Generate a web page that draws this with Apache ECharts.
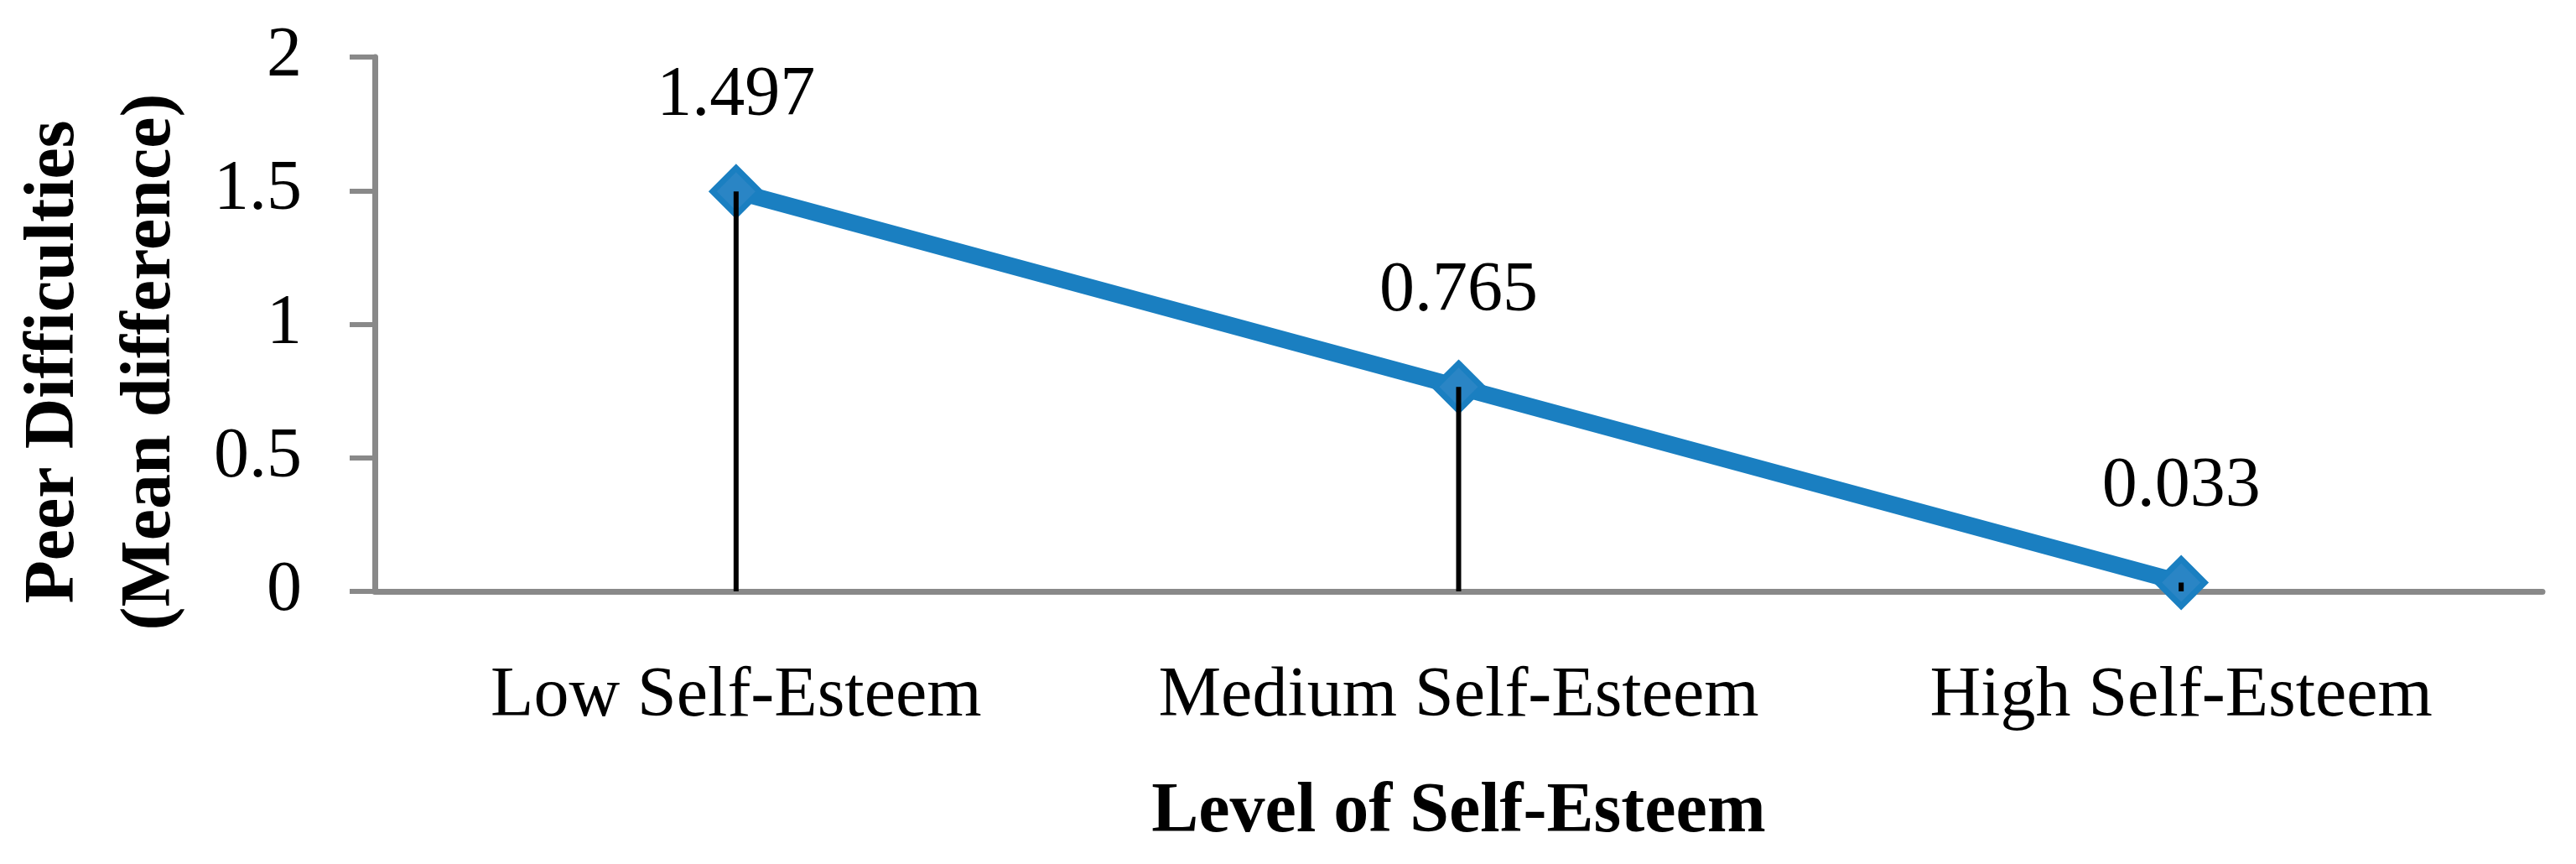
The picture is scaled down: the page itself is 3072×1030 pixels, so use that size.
<!DOCTYPE html>
<html>
<head>
<meta charset="utf-8">
<script src="https://cdn.jsdelivr.net/npm/echarts@6/dist/echarts.min.js"></script>
<style>
  html, body { margin: 0; padding: 0; background: #ffffff; }
  #chart { width: 3072px; height: 1030px; }
</style>
</head>
<body>
<div id="chart"></div>
<script>
const categories = ['Low Self-Esteem', 'Medium Self-Esteem', 'High Self-Esteem'];
const meanDifference = [1.497, 0.765, 0.033];
const yTicks = { min: 0, max: 2, interval: 0.5 };
const xAxisTitle = 'Level of Self-Esteem';
const yAxisTitle = 'Peer Difficulties\n(Mean difference)';

const FONT = '"Liberation Serif", "Times New Roman", serif';
const AXIS_GRAY = '#898989';
const BLUE = '#1A7FC1';
const BLUE_FILL = '#2A85C5';

const chart = echarts.init(document.getElementById('chart'), null, { renderer: 'canvas' });

const option = {
  backgroundColor: '#ffffff',
  animation: false,
  grid: { left: 447, right: 40, top: 68, bottom: 325, outerBoundsMode: 'none', containLabel: false },
  xAxis: {
    type: 'category',
    data: categories,
    boundaryGap: true,
    axisLine: { show: true, lineStyle: { color: AXIS_GRAY, width: 7 } },
    axisTick: { show: false },
    splitLine: { show: false },
    axisLabel: { color: '#000', fontFamily: FONT, fontSize: 84, margin: 84, interval: 0 },
    name: xAxisTitle,
    nameLocation: 'middle',
    nameGap: 222,
    nameTextStyle: { color: '#000', fontFamily: FONT, fontSize: 84, fontWeight: 'bold' }
  },
  yAxis: {
    type: 'value',
    min: yTicks.min,
    max: yTicks.max,
    interval: yTicks.interval,
    axisLine: { show: true, lineStyle: { color: AXIS_GRAY, width: 7 } },
    axisTick: { show: true, inside: false, length: 30, lineStyle: { color: AXIS_GRAY, width: 6 } },
    splitLine: { show: false },
    axisLabel: { color: '#000', fontFamily: FONT, fontSize: 84, margin: 87 },
    name: yAxisTitle,
    nameLocation: 'middle',
    nameRotate: 90,
    nameGap: 209,
    nameTextStyle: {
      color: '#000', fontFamily: FONT, fontSize: 84, fontWeight: 'bold',
      lineHeight: 115, align: 'center', padding: [0, 90, 0, 0]
    }
  },
  series: [
    {
      type: 'line',
      data: meanDifference,
      z: 3,
      symbol: 'diamond',
      symbolSize: 56,
      showAllSymbol: true,
      lineStyle: { color: BLUE, width: 20 },
      itemStyle: { color: BLUE_FILL, borderColor: BLUE, borderWidth: 7 },
      label: {
        show: true,
        position: 'top',
        distance: 40,
        color: '#000',
        fontFamily: FONT,
        fontSize: 84,
        formatter: p => String(p.value)
      }
    },
    {
      type: 'custom',
      z: 5,
      data: meanDifference.map((v, i) => [i, v]),
      renderItem: function (params, api) {
        const top = api.coord([api.value(0), api.value(1)]);
        const bottom = api.coord([api.value(0), 0]);
        return {
          type: 'line',
          shape: { x1: top[0], y1: top[1], x2: bottom[0], y2: bottom[1] },
          style: { stroke: '#000', lineWidth: 6 }
        };
      },
      silent: true
    }
  ]
};

chart.setOption(option);
</script>
</body>
</html>
